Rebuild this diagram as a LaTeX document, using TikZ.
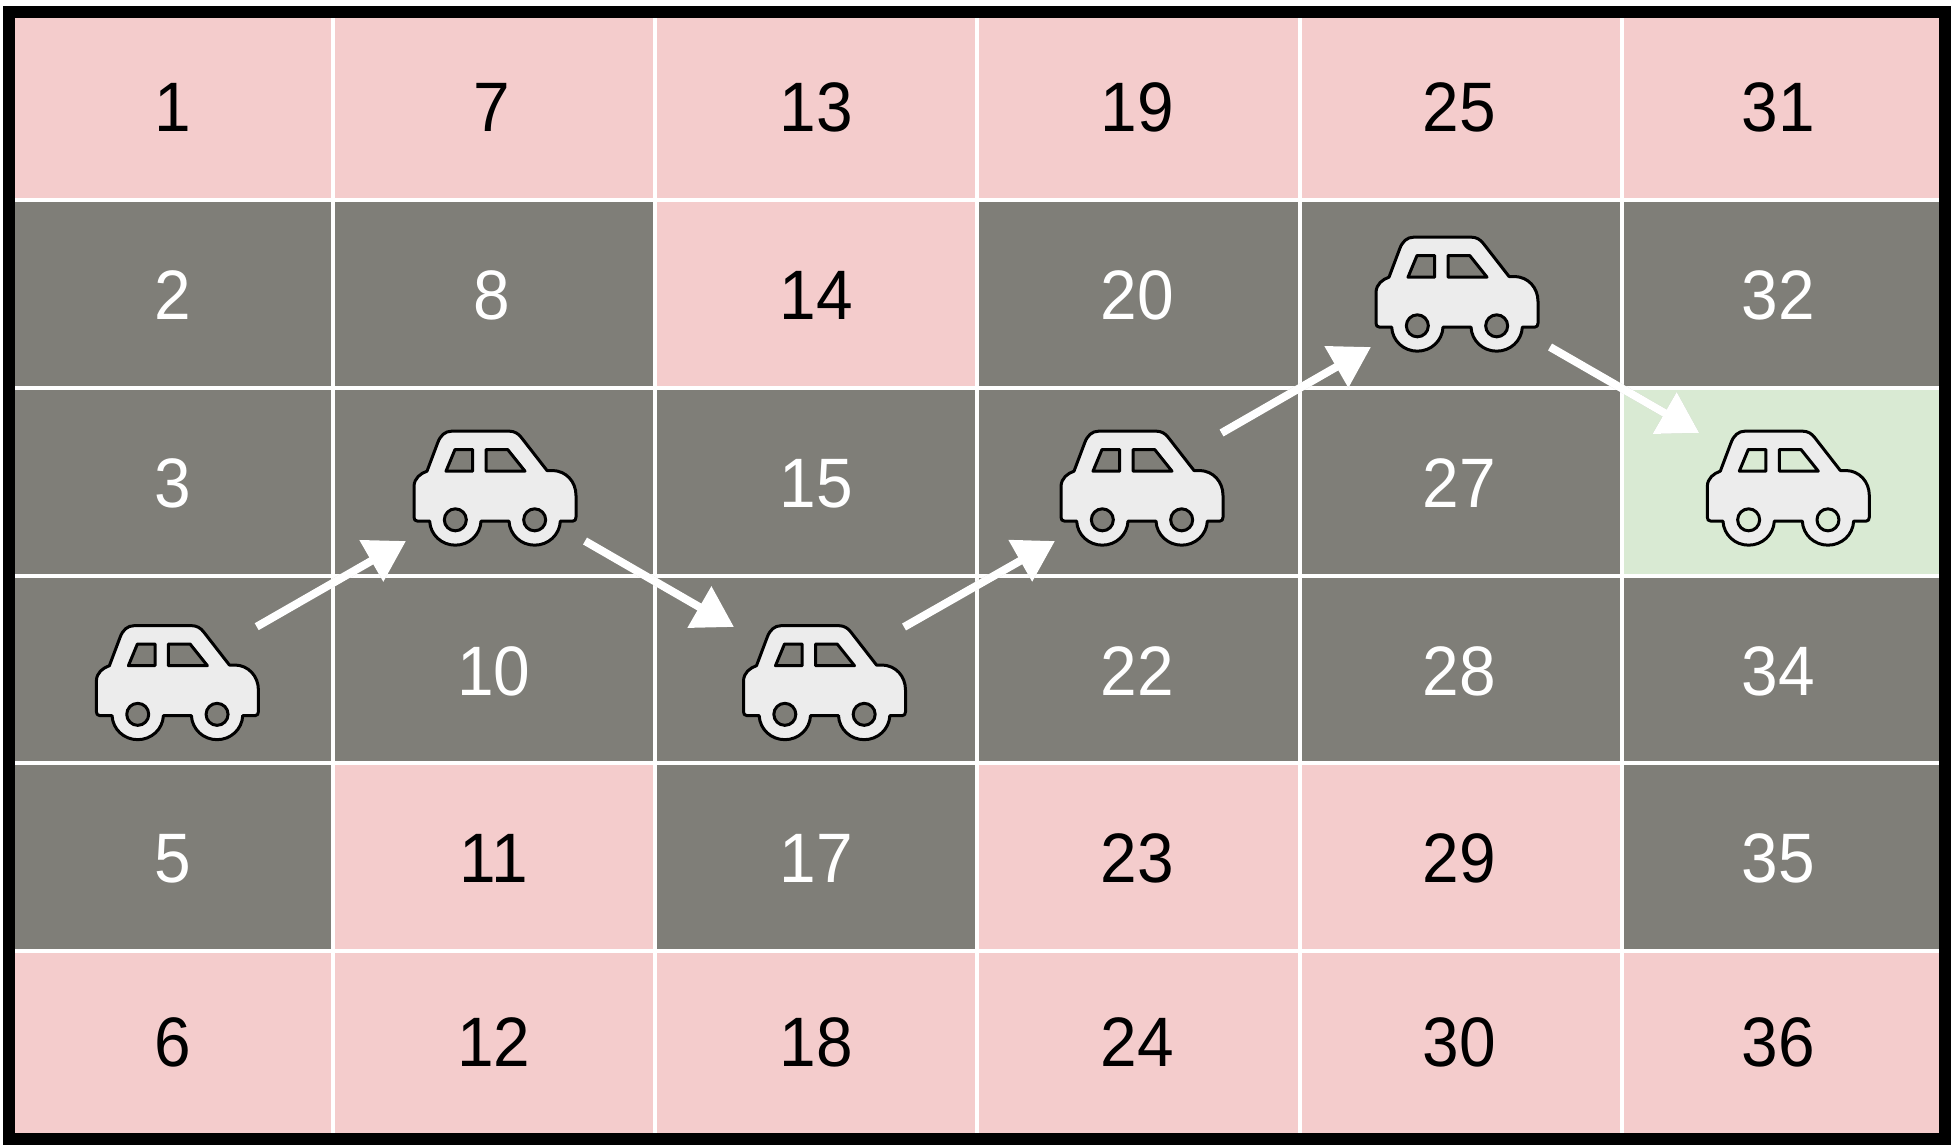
\documentclass[tikz,border=0pt]{standalone}
\usepackage{fontspec}
\usepackage{graphicx}
\setmainfont{Liberation Sans}
\usetikzlibrary{arrows.meta,calc}
\definecolor{cellpink}{HTML}{F4CCCC}
\definecolor{cellgrey}{HTML}{7F7E78}
\definecolor{cellgreen}{HTML}{D9EAD3}
\definecolor{carbody}{HTML}{ECECEC}
\newcommand{\squeezed}[1]{\scalebox{.94}[1]{#1}}
\tikzset{
  x=1pt,y=-1pt,
  numlabel/.style={anchor=base,inner sep=0pt,font=\fontsize{70}{84}\selectfont},
  onpink/.style={numlabel,text=black},
  ongrey/.style={numlabel,text=white},
  gridline/.style={white,line width=4pt},
  frameline/.style={black,line width=12pt,line join=miter},
  moveshadow/.style={line width=8pt,draw=black,fill=black,opacity=.16,
    -{Triangle[length=40pt,width=46pt]},shift={(1,2.5)}},
  movearrow/.style={line width=8pt,draw=white,fill=white,
    -{Triangle[length=40pt,width=46pt]}},
  pics/vehicle/.style={code={
    \begin{scope}[shift={(-352,-487.5)}]
    \path[draw=black,fill=carbody,even odd rule,line width=3pt,line join=round]
      (120,587) .. controls (112,587) and (109,582) .. (109,575)
      -- (109,482) .. controls (110,458) and (128,444) .. (148,437)
      -- (180,352) .. controls (188,330) and (202,317) .. (222,317)
      -- (395,317) .. controls (410,317) and (422,324) .. (431,336)
      -- (508,435) -- (525,435) .. controls (565,436) and (595,468) .. (595,510)
      -- (595,575) .. controls (595,582) and (592,587) .. (585,587)
      -- (548,587) .. controls (546,628) and (512,659) .. (471,659)
         .. controls (430,659) and (396,628) .. (394,587)
      -- (310,587) .. controls (308,628) and (274,659) .. (233,659)
         .. controls (192,659) and (158,628) .. (156,587)
      -- cycle
      (233,583) circle[radius=33]
      (471,583) circle[radius=33]
      (232,372) -- (285,372) -- (285,437) -- (205,437) -- cycle
      (325,372) -- (390,372) -- (442,437) -- (325,437) -- cycle;
    \end{scope}
  }},
}
\begin{document}
\begin{tikzpicture}
\useasboundingbox (0,0) rectangle (1959,1148);
% cells
\fill[cellgrey] (15,18) rectangle (1939,1133);
\foreach \xa/\ya/\xb/\yb in {
  15/18/1939/200,
  655/200/977/388,
  333/763/655/951,
  977/763/1622/951,
  15/951/1939/1133}
  \fill[cellpink] (\xa,\ya) rectangle (\xb,\yb);
\fill[cellgreen] (1622,388) rectangle (1939,576);
% grid lines
\foreach \xx in {332.5,655,977,1299.5,1622}
  \draw[gridline] (\xx,18) -- (\xx,1133);
\foreach \yy in {200,388,576,763,951}
  \draw[gridline] (15,\yy) -- (1939,\yy);
% numbers on pink
\foreach \n/\xx/\yy in {
  1/173/131, 7/492/131, 13/816/131, 19/1137/131, 25/1459/131, 31/1778/131,
  14/816/319,
  11/494/882, 23/1137/882, 29/1459/882,
  6/173/1066, 12/494/1066, 18/816/1066, 24/1137/1066, 30/1459/1066, 36/1778/1066}
  \node[onpink] (num\n) at (\xx,\yy) {\squeezed{\n}};
% numbers on grey
\foreach \n/\xx/\yy in {
  2/173/319, 8/492/319, 20/1137/319, 32/1778/319,
  3/173/507, 15/816/507, 27/1459/507,
  10/494/695, 22/1137/695, 28/1459/695, 34/1778/695,
  5/173/882, 17/816/882, 35/1778/882}
  \node[ongrey] (num\n) at (\xx,\yy) {\squeezed{\n}};
% cars
\coordinate (carA) at (177.4,682.5);
\coordinate (carB) at (495,488);
\coordinate (carC) at (824.5,682.5);
\coordinate (carD) at (1142,488);
\coordinate (carE) at (1457,294);
\coordinate (carF) at (1788.3,488);
\foreach \c in {carA,carB,carC,carD,carE,carF}
  \pic[scale=1/3] at (\c) {vehicle};
% moves
\foreach \a/\b/\ax/\ay/\bx/\by in {
  carA/carB/79.3/-55.8/-89/53,
  carB/carC/90/53/-90.5/-55.5,
  carC/carD/79.5/-55.5/-87/53,
  carD/carE/79.5/-55/-86/53,
  carE/carF/93/53/-89/-55}{
  \draw[moveshadow] ($(\a)+(\ax,\ay)$) -- ($(\b)+(\bx,\by)$);
  \draw[movearrow] ($(\a)+(\ax,\ay)$) -- ($(\b)+(\bx,\by)$);
}
% frame
\draw[frameline] (9.2,12) rectangle (1944.8,1138.7);
\end{tikzpicture}
\end{document}
